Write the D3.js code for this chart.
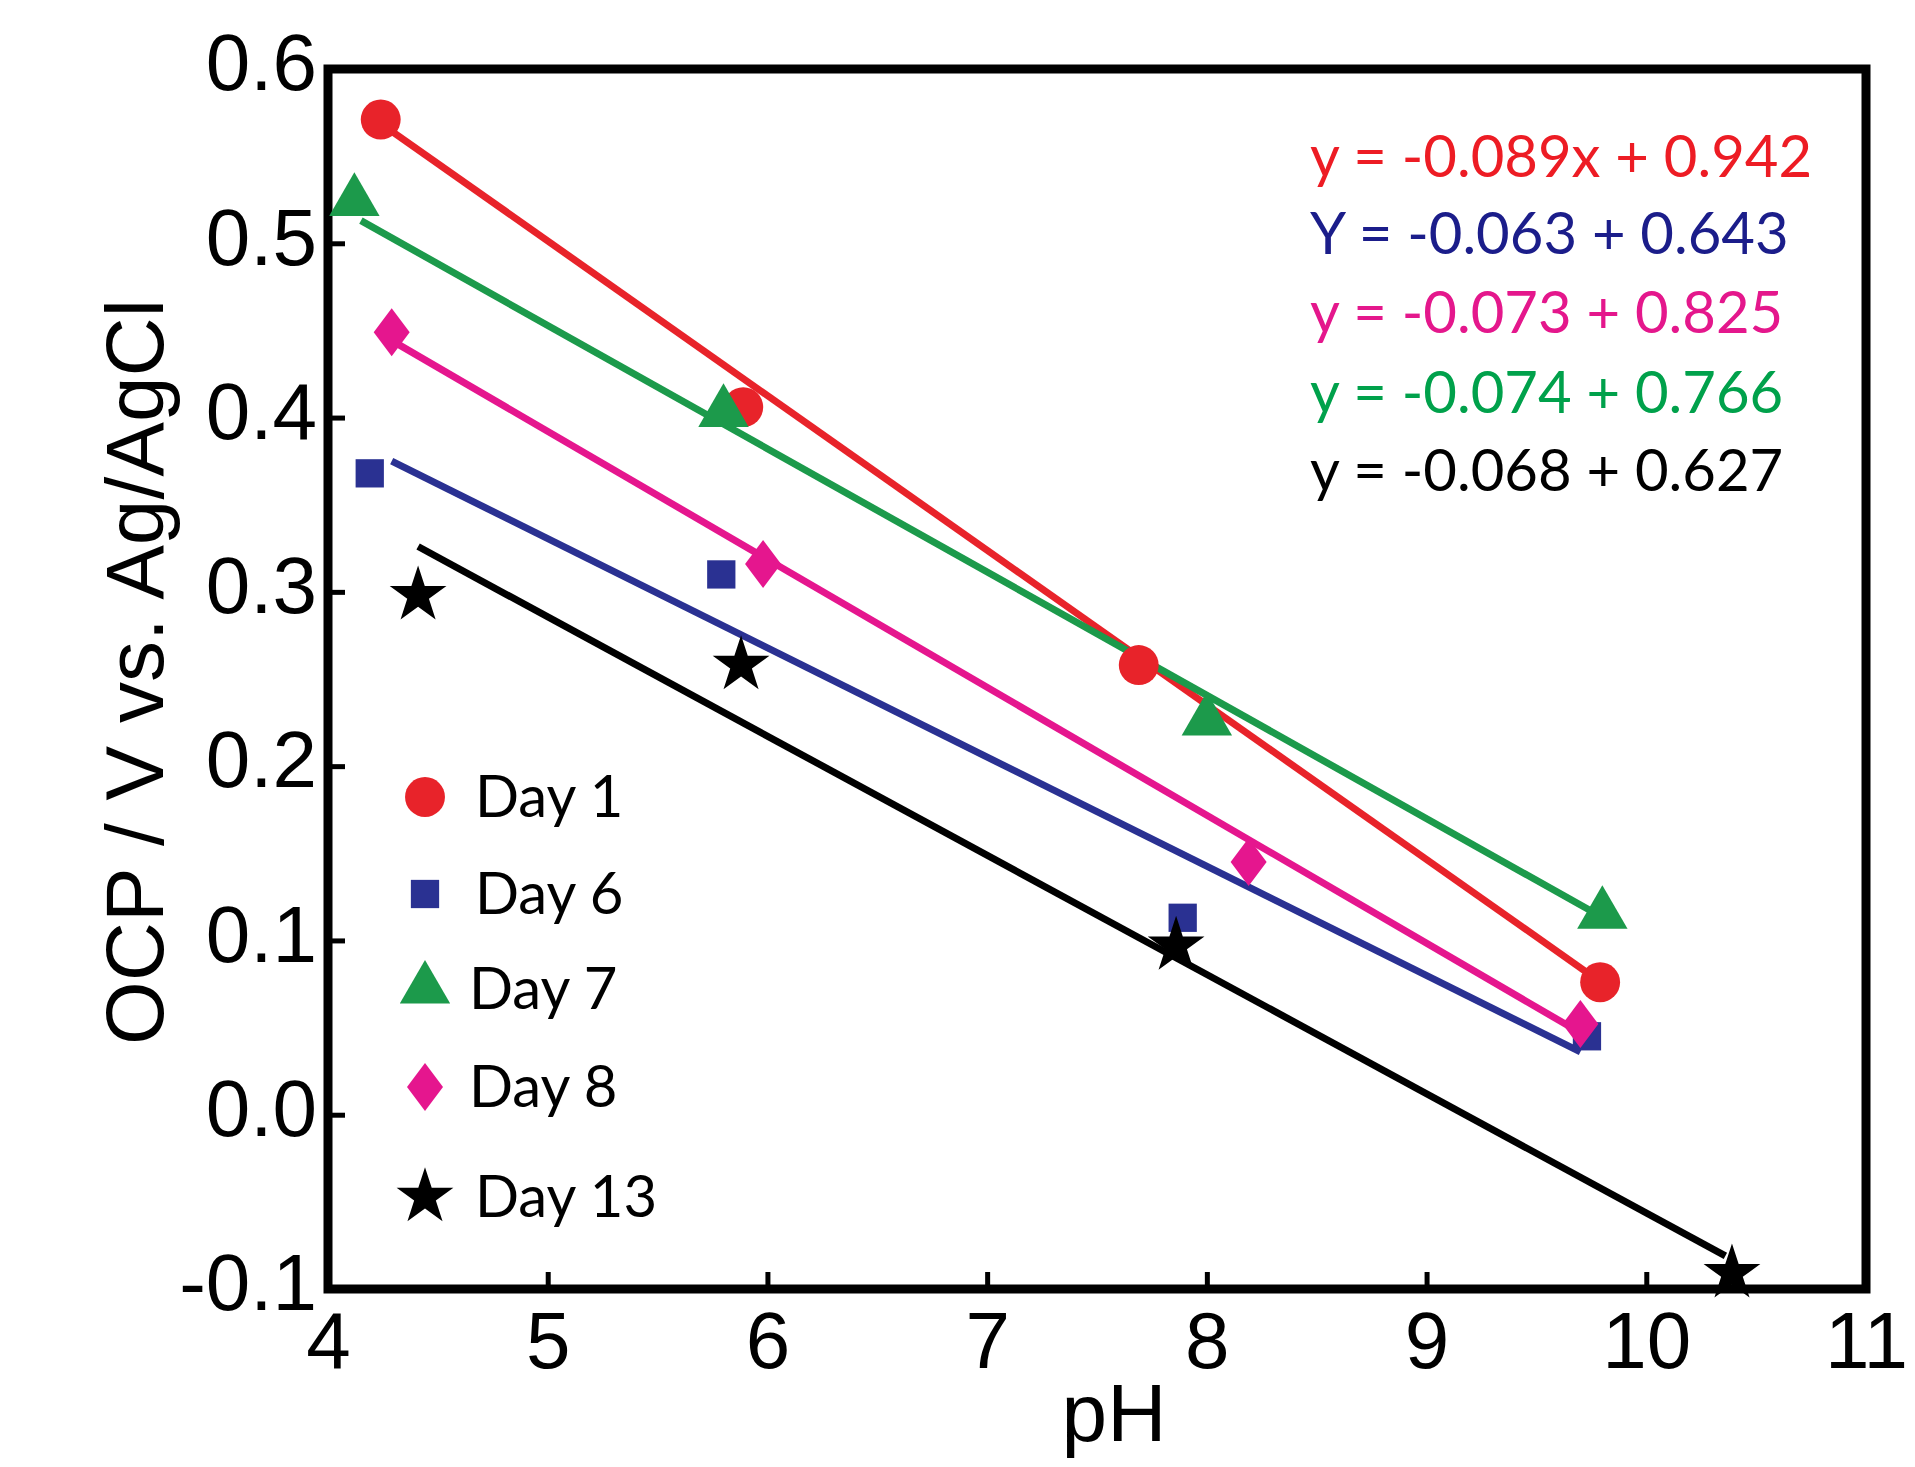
<!DOCTYPE html>
<html>
<head>
<meta charset="utf-8">
<script src="https://cdn.jsdelivr.net/npm/d3@7"></script>
<style>
  body { margin: 0; background: #fff; }
  svg { display: block; }
</style>
</head>
<body>
<div id="chart"></div>
<script>
// values
var days = ["Day 1", "Day 6", "Day 7", "Day 8", "Day 13"];
var colors = ["#e8232a", "#2a3192", "#1c9a4b", "#e5168e", "#000000"];
var shapes = ["circle", "square", "triangle", "diamond", "star"];

var phDay1 = [4.24, 5.89, 7.69, 9.79];
var ocpDay1 = [0.571, 0.406, 0.258, 0.076];
var phDay6 = [4.19, 5.79, 7.89, 9.73];
var ocpDay6 = [0.368, 0.310, 0.113, 0.045];
var phDay7 = [4.12, 5.80, 8.00, 9.80];
var ocpDay7 = [0.524, 0.403, 0.226, 0.115];
var phDay8 = [4.29, 5.98, 8.19, 9.70];
var ocpDay8 = [0.449, 0.316, 0.145, 0.052];
var phDay13 = [4.41, 5.88, 7.86, 10.39];
var ocpDay13 = [0.298, 0.258, 0.097, -0.091];

// fitted lines as drawn: [x0, y0, x1, y1]
var fitDay1 = [4.26, 0.567, 9.76, 0.079];
var fitDay6 = [4.29, 0.375, 9.70, 0.036];
var fitDay7 = [4.15, 0.513, 9.79, 0.114];
var fitDay8 = [4.32, 0.442, 9.70, 0.047];
var fitDay13 = [4.41, 0.326, 10.36, -0.081];

var equations = [
  "y = -0.089x + 0.942",
  "Y = -0.063 + 0.643",
  "y = -0.073 + 0.825",
  "y = -0.074 + 0.766",
  "y = -0.068 + 0.627"
];
var eqColors = ["#ed1c24", "#1b1d8a", "#e4178c", "#00a14b", "#000000"];

var xTicks = [4, 5, 6, 7, 8, 9, 10, 11];
var yTicks = [0.6, 0.5, 0.4, 0.3, 0.2, 0.1, 0.0, -0.1];
var yTickLabels = ["0.6", "0.5", "0.4", "0.3", "0.2", "0.1", "0.0", "-0.1"];

var series = [
  {x: phDay1, y: ocpDay1, fit: fitDay1},
  {x: phDay6, y: ocpDay6, fit: fitDay6},
  {x: phDay7, y: ocpDay7, fit: fitDay7},
  {x: phDay8, y: ocpDay8, fit: fitDay8},
  {x: phDay13, y: ocpDay13, fit: fitDay13}
];

var W = 1915, H = 1467;
var plotLeft = 328, plotRight = 1866, plotTop = 69, plotBottom = 1289;

var svg = d3.select("#chart").append("svg")
  .attr("width", W).attr("height", H);

var x = d3.scaleLinear().domain([4, 11]).range([plotLeft, plotRight]);
var y = d3.scaleLinear().domain([-0.1, 0.6]).range([plotBottom, plotTop]);

// axes, ticks pointing inward
var xAxis = svg.append("g")
  .attr("transform", "translate(0," + plotBottom + ")")
  .call(d3.axisBottom(x).tickValues(xTicks).tickFormat(d3.format("d"))
    .tickSize(-17).tickPadding(22));
var yAxis = svg.append("g")
  .attr("transform", "translate(" + plotLeft + ",0)")
  .call(d3.axisLeft(y).tickValues(yTicks)
    .tickFormat(function(d, i){ return yTickLabels[i]; })
    .tickSize(-17).tickPadding(11));

[xAxis, yAxis].forEach(function(a){
  a.select(".domain").remove();
  a.selectAll(".tick line").attr("stroke", "#000").attr("stroke-width", 5);
  a.selectAll(".tick text")
    .attr("fill", "#000")
    .style("font-family", "'Liberation Sans', Arial, sans-serif")
    .style("font-size", "80px");
});
// keep the bottom y label clear of the first x label
yAxis.selectAll(".tick text").attr("dy", "0.26em");

// frame
svg.append("rect")
  .attr("x", plotLeft).attr("y", plotTop)
  .attr("width", plotRight - plotLeft).attr("height", plotBottom - plotTop)
  .attr("fill", "none").attr("stroke", "#000").attr("stroke-width", 9);

// axis titles
svg.append("text")
  .attr("x", 1114).attr("y", 1441)
  .attr("text-anchor", "middle")
  .style("font-family", "'Liberation Sans', Arial, sans-serif")
  .style("font-size", "82px")
  .text("pH");

svg.append("text")
  .attr("transform", "translate(163,672) rotate(-90)")
  .attr("text-anchor", "middle")
  .style("font-family", "'Liberation Sans', Arial, sans-serif")
  .style("font-size", "82px")
  .text("OCP / V vs. Ag/AgCl");

// fit lines
var plot = svg.append("g");
series.forEach(function(s, i){
  plot.append("line")
    .attr("x1", x(s.fit[0])).attr("y1", y(s.fit[1]))
    .attr("x2", x(s.fit[2])).attr("y2", y(s.fit[3]))
    .attr("stroke", colors[i]).attr("stroke-width", 7);
});

var symbolTypes = {
  circle: d3.symbolCircle,
  square: d3.symbolSquare,
  triangle: d3.symbolTriangle,
  star: d3.symbolStar
};
var symbolSizes = { circle: 1250, square: 800, triangle: 1100, star: 1000 };

function marker(g, shape, color){
  if (shape === "diamond") {
    // wider rhombus than d3's diamond
    return g.append("path")
      .attr("d", "M0,-24L18,0L0,24L-18,0Z")
      .attr("fill", color);
  }
  return g.append("path")
    .attr("d", d3.symbol().type(symbolTypes[shape]).size(symbolSizes[shape])())
    .attr("fill", color);
}

series.forEach(function(s, i){
  s.x.forEach(function(v, j){
    var g = plot.append("g")
      .attr("transform", "translate(" + x(v) + "," + y(s.y[j]) + ")");
    marker(g, shapes[i], colors[i]);
  });
});

// legend
var legendY = [797, 894, 989, 1087, 1197];
var legend = svg.append("g");
days.forEach(function(d, i){
  var g = legend.append("g").attr("transform", "translate(425," + legendY[i] + ")");
  marker(g, shapes[i], colors[i]);
  g.append("text")
    .attr("x", i === 2 || i === 3 ? 44 : 50).attr("y", 20)
    .style("font-family", "Lato, 'Open Sans', sans-serif")
    .style("font-size", "58px")
    .attr("fill", "#000")
    .text(d);
});

// regression equations
var eqY = [177, 254, 333, 413, 491];
equations.forEach(function(e, i){
  svg.append("text")
    .attr("x", 1310).attr("y", eqY[i])
    .style("font-family", "Lato, 'Open Sans', sans-serif")
    .style("font-size", "58px")
    .attr("fill", eqColors[i])
    .text(e);
});
</script>
</body>
</html>
